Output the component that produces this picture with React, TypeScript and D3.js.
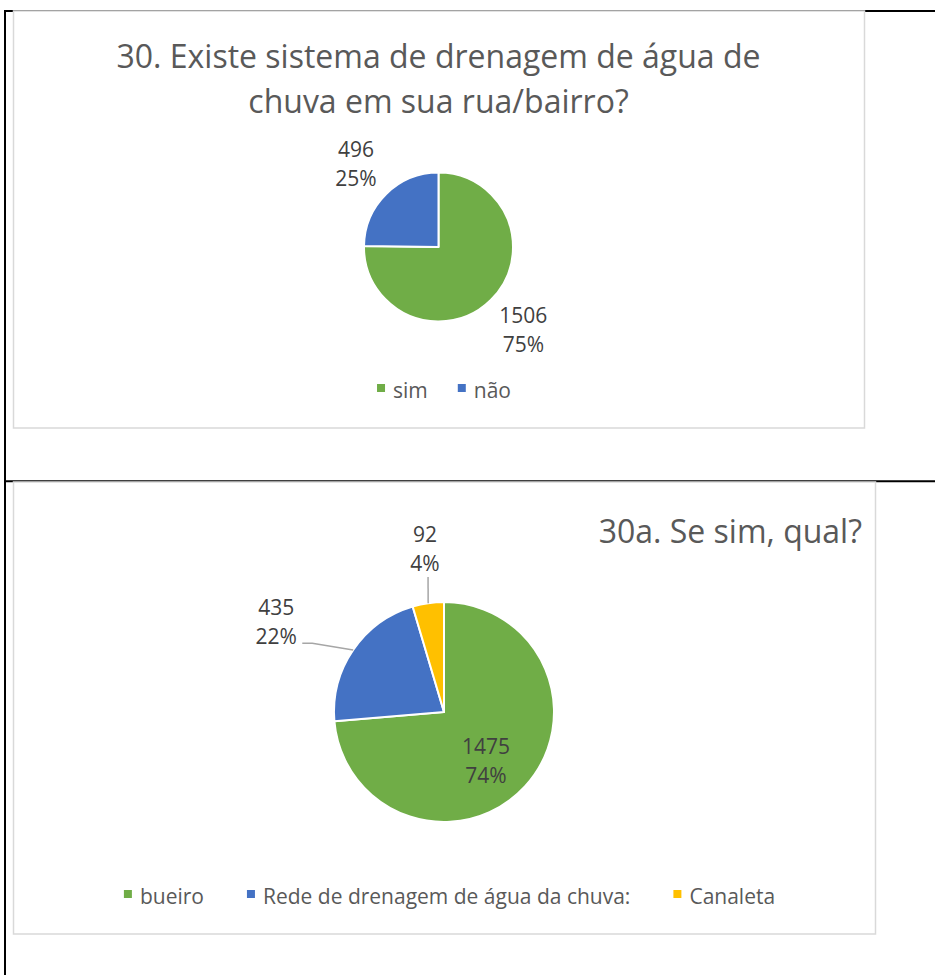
import React, { useEffect, useRef } from 'react';
import * as d3 from 'd3';

// 30. Existe sistema de drenagem...
const drainCategories = ['sim', 'não'];
const drainValues = [1506, 496];
const drainPercents = ['75%', '25%'];

// 30a. Se sim, qual?
const typeCategories = ['bueiro', 'Rede de drenagem de água da chuva:', 'Canaleta'];
const typeValues = [1475, 435, 92];
const typePercents = ['74%', '22%', '4%'];

const sliceColors = ['#70AD47', '#4472C4', '#FFC000'];

const FONT = "'Open Sans', 'Noto Sans', sans-serif";

const charts = [
  {
    box: { x: 13.5, y: 11, w: 851, h: 417 },
    title: ['30. Existe sistema de drenagem de água de', 'chuva em sua rua/bairro?'],
    titleAnchor: 'middle',
    titleX: 438.5,
    titleY: 68,
    categories: drainCategories,
    values: drainValues,
    percents: drainPercents,
    cx: 438.5,
    cy: 247,
    r: 74.5,
    // label placement: radius factor and angle offset (deg) from slice mid
    labelPlace: [
      { k: 1.67, da: 1.6, leader: null },
      { k: 1.5, da: -3, leader: null },
    ],
    legendY: 398,
    legendGap: 30,
  },
  {
    box: { x: 13.5, y: 482, w: 862, h: 452 },
    title: ['30a. Se sim, qual?'],
    titleAnchor: 'end',
    titleX: 862,
    titleY: 543,
    categories: typeCategories,
    values: typeValues,
    percents: typePercents,
    cx: 444,
    cy: 712,
    r: 110,
    labelPlace: [
      { k: 0.64, da: 10.8, leader: null },
      { k: 1.7, da: -8.1, leader: 'elbow' },
      { k: 1.42, da: 1.3, leader: 'vertical' },
    ],
    legendY: 904,
    legendGap: 43,
  },
];

function drawChart(svg: any, cfg: any) {
  const g = svg.append('g');

  g.append('rect')
    .attr('x', cfg.box.x)
    .attr('y', cfg.box.y)
    .attr('width', cfg.box.w)
    .attr('height', cfg.box.h)
    .attr('fill', '#fff')
    .attr('stroke', '#d9d9d9')
    .attr('stroke-width', 1.5);

  // title
  cfg.title.forEach((line: string, i: number) => {
    g.append('text')
      .attr('x', cfg.titleX)
      .attr('y', cfg.titleY + i * 45)
      .attr('text-anchor', cfg.titleAnchor)
      .attr('font-family', FONT)
      .attr('font-size', 32)
      .attr('fill', '#595959')
      .text(line);
  });

  // pie
  const pie = d3.pie<number>().sort(null).value((d) => d);
  const arcs = pie(cfg.values);
  const arc = d3.arc<d3.PieArcDatum<number>>().innerRadius(0).outerRadius(cfg.r);

  const pieG = g.append('g').attr('transform', `translate(${cfg.cx},${cfg.cy})`);
  pieG
    .selectAll('path')
    .data(arcs)
    .join('path')
    .attr('d', arc as any)
    .attr('fill', (_d: any, i: number) => sliceColors[i])
    .attr('stroke', '#fff')
    .attr('stroke-width', 2)
    .attr('stroke-linejoin', 'round');

  // data labels
  arcs.forEach((d, i) => {
    const place = cfg.labelPlace[i];
    const mid = (d.startAngle + d.endAngle) / 2;
    const a = mid + (place.da * Math.PI) / 180;
    const lx = Math.sin(a) * place.k * cfg.r;
    const ly = -Math.cos(a) * place.k * cfg.r;

    const ex = Math.sin(mid) * cfg.r;
    const ey = -Math.cos(mid) * cfg.r;
    if (place.leader === 'vertical') {
      pieG.append('path')
        .attr('d', d3.line()([[lx + 3, ly + 20], [ex, ey]]))
        .attr('fill', 'none')
        .attr('stroke', '#a6a6a6')
        .attr('stroke-width', 1.5);
    } else if (place.leader === 'elbow') {
      pieG.append('path')
        .attr('d', d3.line()([[lx + 26, ly + 14], [lx + 36, ly + 14], [ex, ey]]))
        .attr('fill', 'none')
        .attr('stroke', '#a6a6a6')
        .attr('stroke-width', 1.5);
    }

    const t = pieG.append('text')
      .attr('text-anchor', 'middle')
      .attr('font-family', FONT)
      .attr('font-size', 21)
      .attr('fill', '#404040');
    t.append('tspan').attr('x', lx).attr('y', ly - 14.5).text(String(cfg.values[i]));
    t.append('tspan').attr('x', lx).attr('y', ly + 14.5).text(cfg.percents[i]);
  });

  // legend
  const legend = g.append('g');
  const items = legend
    .selectAll('g')
    .data(cfg.categories)
    .join('g');
  items.append('rect')
    .attr('width', 8)
    .attr('height', 8)
    .attr('y', -14)
    .attr('fill', (_d: any, i: number) => sliceColors[i]);
  items.append('text')
    .attr('x', 16)
    .attr('font-family', FONT)
    .attr('font-size', 21)
    .attr('fill', '#595959')
    .text((d: any) => d);

  let x = 0;
  const offsets: number[] = [];
  items.each(function (this: any) {
    offsets.push(x);
    const w = (d3.select(this).select('text').node() as SVGTextElement).getComputedTextLength();
    x += 16 + w + cfg.legendGap;
  });
  const total = x - cfg.legendGap;
  const startX = cfg.box.x + cfg.box.w / 2 - total / 2 + 5;
  items.attr('transform', (_d: any, i: number) => `translate(${startX + offsets[i]},${cfg.legendY})`);
}

export default function App() {
  const svgRef = useRef<SVGSVGElement>(null);

  useEffect(() => {
    const svg = d3.select(svgRef.current);
    svg.selectAll('*').remove();

    svg.append('rect').attr('width', 935).attr('height', 975).attr('fill', '#fff');

    // table borders
    const border = svg.append('g').attr('stroke', '#000').attr('stroke-width', 2);
    border.append('line').attr('x1', 4).attr('x2', 935).attr('y1', 11).attr('y2', 11);
    border.append('line').attr('x1', 4).attr('x2', 935).attr('y1', 481.3).attr('y2', 481.3);
    border.append('line').attr('x1', 5).attr('x2', 5).attr('y1', 10).attr('y2', 975);

    charts.forEach((c) => drawChart(svg, c));
  }, []);

  return (
    <svg
      ref={svgRef}
      width={935}
      height={975}
      style={{ position: 'absolute', left: 0, top: 0, display: 'block' }}
    />
  );
}
